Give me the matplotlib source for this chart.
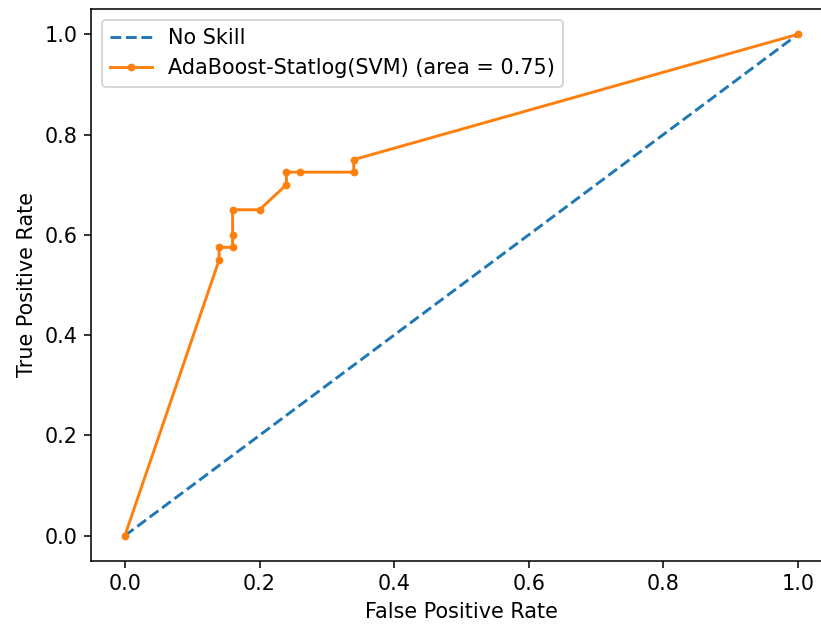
import matplotlib.pyplot as plt

# ROC points for the classifier
fpr = [0.0, 0.14, 0.14, 0.16, 0.16, 0.16, 0.20, 0.24, 0.24, 0.26, 0.34, 0.34, 1.0]
tpr = [0.0, 0.55, 0.575, 0.575, 0.60, 0.65, 0.65, 0.70, 0.725, 0.725, 0.725, 0.75, 1.0]
auc = 0.75

# no-skill baseline
ns_fpr = [0, 1]
ns_tpr = [0, 1]

plt.rcParams['font.size'] = 10.7

fig = plt.figure(figsize=(822 / 140, 626 / 140), dpi=140)
ax = fig.add_axes([0.111, 0.1043, 0.9007, 0.881])

ax.plot(ns_fpr, ns_tpr, linestyle='--', label='No Skill')
ax.plot(fpr, tpr, marker='.', label='AdaBoost-Statlog(SVM) (area = %0.2f)' % auc)

ax.set_xlabel('False Positive Rate')
ax.set_ylabel('True Positive Rate')
ax.legend(loc='upper left')

fig.savefig('out.png', dpi=140)
